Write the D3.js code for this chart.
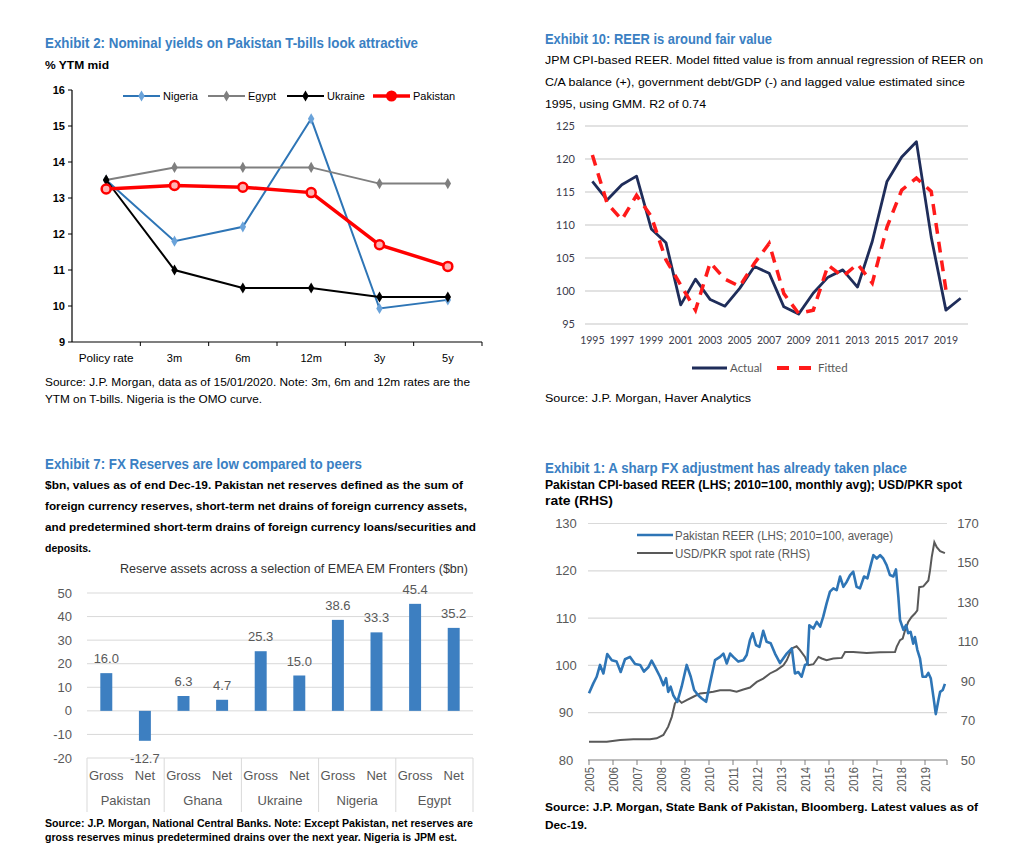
<!DOCTYPE html>
<html><head><meta charset="utf-8">
<script src="https://cdn.jsdelivr.net/npm/d3@7"></script>
<style>body{margin:0;background:#fff} svg{display:block} text{font-family:"Liberation Sans",Arial,sans-serif}</style>
</head><body><svg id="c" width="1024" height="863"></svg>
<script>
// ---------- Exhibit 2 data ----------
const yieldCats = ["Policy rate","3m","6m","12m","3y","5y"];
const nigeria  = [13.5,11.8,12.2,15.2,9.93,10.17];
const egypt    = [13.5,13.85,13.85,13.85,13.4,13.4];
const ukraine  = [13.5,11.0,10.5,10.5,10.25,10.25];
const pakistan = [13.25,13.35,13.3,13.15,11.7,11.1];
const yieldTicks = [9,10,11,12,13,14,15,16];

// ---------- Exhibit 10 data ----------
const reerYears = [1995,1996,1997,1998,1999,2000,2001,2002,2003,2004,2005,2006,2007,2008,2009,2010,2011,2012,2013,2014,2015,2016,2017,2018,2019,2020];
const reerActual = [116.6,113.8,116.1,117.4,109.4,107.3,97.9,101.8,98.7,97.7,100.4,103.7,102.7,97.6,96.5,99.7,102.1,103.2,100.6,107.5,116.6,120.3,122.6,108.2,97.1,98.9];
const reerFitted = [120.6,113.3,110.8,114.5,111.3,104.7,100.9,97.1,104.3,101.8,100.7,104.2,107.2,99.6,96.6,97.1,103.9,102.2,104.1,101.2,109.7,115.3,117.1,115.1,100.2];
const reerTicks = [95,100,105,110,115,120,125];
const reerYearLabels = [1995,1997,1999,2001,2003,2005,2007,2009,2011,2013,2015,2017,2019];

// ---------- Exhibit 7 data ----------
const resCountries = ["Pakistan","Ghana","Ukraine","Nigeria","Egypt"];
const resTypes = ["Gross","Net"];
const resValues = [16.0,-12.7,6.3,4.7,25.3,15.0,38.6,33.3,45.4,35.2];
const resTicks = [-20,-10,0,10,20,30,40,50];

// ---------- Exhibit 1 data ----------
const pkReer = [[2005.0,94.1],[2005.18,96.2],[2005.32,97.6],[2005.46,100.1],[2005.6,98.3],[2005.76,102.4],[2005.95,101.1],[2006.15,100.8],[2006.32,98.6],[2006.5,101.3],[2006.71,101.8],[2006.92,100.3],[2007.13,100.1],[2007.29,98.7],[2007.47,99.6],[2007.61,101.0],[2007.75,99.7],[2007.96,97.6],[2008.1,95.8],[2008.21,97.3],[2008.3,94.4],[2008.4,95.5],[2008.51,93.7],[2008.68,92.3],[2008.86,95.5],[2009.07,100.1],[2009.24,97.6],[2009.38,94.8],[2009.55,93.7],[2009.7,93.0],[2009.88,92.3],[2010.04,96.2],[2010.25,101.1],[2010.46,101.8],[2010.6,102.5],[2010.74,100.4],[2010.88,102.5],[2011.01,101.8],[2011.22,100.8],[2011.43,101.1],[2011.57,102.2],[2011.71,105.4],[2011.82,106.8],[2011.96,104.3],[2012.1,103.9],[2012.26,107.3],[2012.4,105.0],[2012.57,104.7],[2012.75,102.5],[2012.96,100.5],[2013.24,102.5],[2013.45,103.6],[2013.58,98.3],[2013.72,98.6],[2013.86,97.6],[2014.0,100.1],[2014.1,100.3],[2014.18,108.5],[2014.35,107.8],[2014.49,109.2],[2014.63,108.2],[2014.76,110.3],[2014.9,113.1],[2015.04,115.6],[2015.18,116.3],[2015.32,115.9],[2015.46,118.8],[2015.6,116.6],[2015.74,117.7],[2015.88,119.1],[2016.01,119.8],[2016.15,116.6],[2016.29,116.3],[2016.46,118.8],[2016.6,118.4],[2016.74,121.2],[2016.85,123.3],[2016.99,122.6],[2017.13,123.3],[2017.26,122.6],[2017.4,121.2],[2017.54,119.1],[2017.68,118.8],[2017.79,120.3],[2017.89,114.5],[2017.96,109.6],[2018.1,107.5],[2018.21,108.5],[2018.3,106.8],[2018.4,107.1],[2018.51,104.6],[2018.58,106.0],[2018.68,103.3],[2018.79,101.5],[2018.9,97.6],[2019.04,97.6],[2019.14,98.4],[2019.24,97.3],[2019.35,93.4],[2019.45,89.7],[2019.56,92.7],[2019.63,94.4],[2019.74,94.8],[2019.83,96.1]];
const usdPkr = [[2005.0,59.3],[2005.74,59.3],[2006.3,60.1],[2006.85,60.5],[2007.54,60.5],[2007.82,61.0],[2008.1,62.7],[2008.3,66.9],[2008.45,71.9],[2008.58,78.7],[2008.72,80.7],[2008.86,79.0],[2009.07,80.4],[2009.35,82.1],[2009.63,83.8],[2009.9,84.1],[2010.18,84.6],[2010.46,85.4],[2010.88,85.4],[2011.15,84.6],[2011.43,85.8],[2011.71,86.8],[2011.99,89.6],[2012.26,91.3],[2012.54,93.9],[2012.82,95.6],[2013.1,98.1],[2013.24,100.6],[2013.45,106.6],[2013.65,107.7],[2013.79,105.7],[2014.0,102.3],[2014.14,98.1],[2014.35,98.6],[2014.56,102.3],[2014.7,101.5],[2014.9,100.6],[2015.18,101.5],[2015.53,101.8],[2015.67,104.8],[2016.01,104.8],[2016.57,104.3],[2017.13,104.7],[2017.75,104.8],[2017.82,107.4],[2017.96,110.8],[2018.07,111.6],[2018.17,115.8],[2018.3,120.0],[2018.44,122.6],[2018.58,124.3],[2018.68,125.9],[2018.76,137.7],[2018.93,138.1],[2019.14,141.1],[2019.21,146.2],[2019.28,152.9],[2019.39,160.5],[2019.49,158.0],[2019.63,156.0],[2019.83,155.0]];
const lhsTicks = [80,90,100,110,120,130];
const rhsTicks = [50,70,90,110,130,150,170];
const fxYears = [2005,2006,2007,2008,2009,2010,2011,2012,2013,2014,2015,2016,2017,2018,2019];

const svg = d3.select("#c");
const TITLE = "#3a80c3";
function txt(x,y,s,o={}){
  const t = svg.append("text").attr("x",x).attr("y",y).text(s)
    .attr("font-size",o.size||11).attr("fill",o.fill||"#000")
    .attr("font-weight",o.bold?"bold":"normal")
    .attr("text-anchor",o.anchor||"start");
  if(o.w){ t.attr("textLength",o.w).attr("lengthAdjust","spacingAndGlyphs"); }
  if(o.family){ t.style("font-family",o.family); }
  return t;
}

// ================= Exhibit 2 =================
(function(){
  txt(45,48,"Exhibit 2: Nominal yields on Pakistan T-bills look attractive",{size:15,bold:true,fill:TITLE,w:373});
  txt(45,69,"% YTM mid",{size:11,bold:true,w:64});
  const y = d3.scaleLinear().domain([9,16]).range([342,90]);
  const xb = d3.scaleBand().domain(yieldCats).range([72,482]);
  const xc = c => xb(c) + xb.bandwidth()/2;
  const g = svg.append("g");
  g.append("line").attr("x1",72).attr("x2",72).attr("y1",90).attr("y2",342).attr("stroke","#000").attr("stroke-width",1.2);
  g.append("line").attr("x1",72).attr("x2",482).attr("y1",342).attr("y2",342).attr("stroke","#000").attr("stroke-width",1.2);
  yieldTicks.forEach(v=>{
    g.append("line").attr("x1",68).attr("x2",72).attr("y1",y(v)).attr("y2",y(v)).attr("stroke","#000");
    txt(65,y(v)+4,String(v),{size:11,bold:true,anchor:"end"});
  });
  yieldCats.forEach((c,i)=>{
    const bx = xb(c)+xb.step();
    g.append("line").attr("x1",bx).attr("x2",bx).attr("y1",342).attr("y2",346).attr("stroke","#000");
    txt(xc(c),362,c,{size:11,anchor:"middle",w:c==="Policy rate"?55:null});
  });
  const line = d3.line().x((d,i)=>xc(yieldCats[i])).y(d=>y(d));
  const diamond = d3.symbol().type(d3.symbolDiamond).size(36);
  const series = [
    {n:"Nigeria",v:nigeria,c:"#2e75b6",m:"#6aa3da",w:2,mk:"d",lx:123},
    {n:"Egypt",v:egypt,c:"#7f7f7f",m:"#7f7f7f",w:2,mk:"d",lx:208},
    {n:"Ukraine",v:ukraine,c:"#000",m:"#000",w:2,mk:"d",lx:287},
    {n:"Pakistan",v:pakistan,c:"#ff0000",m:"#ff0000",w:3.5,mk:"c",lx:373}
  ];
  series.forEach(s=>{
    g.append("path").attr("d",line(s.v)).attr("fill","none").attr("stroke",s.c).attr("stroke-width",s.w);
    s.v.forEach((v,i)=>{
      if(s.mk==="d") g.append("path").attr("d",diamond).attr("transform",`translate(${xc(yieldCats[i])},${y(v)})`).attr("fill",s.m);
      else g.append("circle").attr("cx",xc(yieldCats[i])).attr("cy",y(v)).attr("r",4.5).attr("fill","#ffb3b3").attr("stroke",s.m).attr("stroke-width",2.5);
    });
    // legend
    const ly = 96, l2 = s.lx+37;
    g.append("line").attr("x1",s.lx).attr("x2",l2).attr("y1",ly).attr("y2",ly).attr("stroke",s.c).attr("stroke-width",s.w);
    if(s.mk==="d") g.append("path").attr("d",diamond).attr("transform",`translate(${(s.lx+l2)/2},${ly})`).attr("fill",s.m);
    else g.append("circle").attr("cx",(s.lx+l2)/2).attr("cy",ly).attr("r",4.5).attr("fill","#ff0000").attr("stroke",s.m).attr("stroke-width",2);
    txt(l2+3,ly+4,s.n,{size:11});
  });
  txt(45,386,"Source: J.P. Morgan, data as of 15/01/2020. Note: 3m, 6m and 12m rates are the",{size:11,w:425});
  txt(45,403,"YTM on T-bills. Nigeria is the OMO curve.",{size:11,w:217});
})();

// ================= Exhibit 10 =================
(function(){
  txt(545,44,"Exhibit 10: REER is around fair value",{size:15,bold:true,fill:TITLE,w:227});
  txt(545,64,"JPM CPI-based REER. Model fitted value is from annual regression of REER on",{size:11,w:438});
  txt(545,86,"C/A balance (+), government debt/GDP (-) and lagged value estimated since",{size:11,w:420});
  txt(545,108,"1995, using GMM. R2 of 0.74",{size:11,w:161});
  const y = d3.scaleLinear().domain([95,125]).range([324,126]);
  const xb = d3.scaleBand().domain(reerYears).range([585,968]);
  const xc = yr => xb(yr)+xb.bandwidth()/2;
  const g = svg.append("g");
  reerTicks.forEach(v=>{
    g.append("line").attr("x1",585).attr("x2",968).attr("y1",y(v)).attr("y2",y(v)).attr("stroke","#d9d9d9").attr("stroke-width",1.5);
    txt(575,y(v)+4,String(v),{size:11,anchor:"end",fill:"#3b3b4b",family:"Lato"});
  });
  reerYearLabels.forEach(yr=>txt(xc(yr),344,String(yr),{size:10.5,anchor:"middle",fill:"#3b3b4b",family:"Lato"}));
  const la = d3.line().x((d,i)=>xc(reerYears[i])).y(d=>y(d));
  g.append("path").attr("d",la(reerActual)).attr("fill","none").attr("stroke","#1f2d5a").attr("stroke-width",2.8).attr("stroke-linejoin","round");
  g.append("path").attr("d",la(reerFitted)).attr("fill","none").attr("stroke","#ff1a1a").attr("stroke-width",3.5).attr("stroke-dasharray","11,8");
  g.append("line").attr("x1",692).attr("x2",727).attr("y1",368).attr("y2",368).attr("stroke","#1f2d5a").attr("stroke-width",3);
  txt(730,372,"Actual",{size:11.5,fill:"#595959",family:"Lato"});
  g.append("line").attr("x1",777).attr("x2",813).attr("y1",368).attr("y2",368).attr("stroke","#ff1a1a").attr("stroke-width",4).attr("stroke-dasharray","12,10");
  txt(818,372,"Fitted",{size:11.5,fill:"#595959",family:"Lato"});
  txt(545,402,"Source: J.P. Morgan, Haver Analytics",{size:11,w:206});
})();

// ================= Exhibit 7 =================
(function(){
  txt(45,469,"Exhibit 7: FX Reserves are low compared to peers",{size:15,bold:true,fill:TITLE,w:317});
  txt(45,489,"$bn, values as of end Dec-19. Pakistan net reserves defined as the sum of",{size:11,bold:true,w:418});
  txt(45,510,"foreign currency reserves, short-term net drains of foreign currency assets,",{size:11,bold:true,w:422});
  txt(45,531,"and predetermined short-term drains of foreign currency loans/securities and",{size:11,bold:true,w:431});
  txt(45,552,"deposits.",{size:11,bold:true,w:46});
  txt(294,573,"Reserve assets across a selection of EMEA EM Fronters ($bn)",{size:13,anchor:"middle",fill:"#333",w:348});
  const y = d3.scaleLinear().domain([-20,50]).range([758,593]);
  const keys = [];
  resCountries.forEach(c=>resTypes.forEach(t=>keys.push(c+"|"+t)));
  const x = d3.scaleBand().domain(keys).range([87,473]).paddingInner(0.69).paddingOuter(0.345);
  const g = svg.append("g");
  resTicks.forEach(v=>{
    g.append("line").attr("x1",87).attr("x2",473).attr("y1",y(v)).attr("y2",y(v)).attr("stroke","#d9d9d9").attr("stroke-width",1);
    txt(72,y(v)+4.5,String(v),{size:13,anchor:"end",fill:"#595959"});
  });
  keys.forEach((k,i)=>{
    const v = resValues[i];
    g.append("rect").attr("x",x(k)).attr("width",x.bandwidth())
      .attr("y",y(Math.max(0,v))).attr("height",Math.abs(y(v)-y(0))).attr("fill","#3d7fc1");
    const cx = x(k)+x.bandwidth()/2;
    txt(cx, v>=0 ? y(v)-10 : y(v)+22, v.toFixed(1),{size:13,anchor:"middle",fill:"#595959"});
    txt(cx,780,k.split("|")[1],{size:13,anchor:"middle",fill:"#595959"});
  });
  const step = x.step();
  for(let j=0;j<=resCountries.length;j++){
    const sx = 87 + j*2*step;
    g.append("line").attr("x1",sx).attr("x2",sx).attr("y1",758).attr("y2",812).attr("stroke","#d9d9d9").attr("stroke-width",1);
  }
  resCountries.forEach((c,j)=>txt(87+(2*j+1)*step,805,c,{size:13,anchor:"middle",fill:"#595959"}));
  txt(45,827,"Source: J.P. Morgan, National Central Banks. Note: Except Pakistan, net reserves are",{size:10,bold:true,w:428});
  txt(45,841,"gross reserves minus predetermined drains over the next year. Nigeria is JPM est.",{size:10,bold:true,w:412});
})();

// ================= Exhibit 1 =================
(function(){
  txt(545,473,"Exhibit 1: A sharp FX adjustment has already taken place",{size:15,bold:true,fill:TITLE,w:362});
  txt(545,489,"Pakistan CPI-based REER (LHS; 2010=100, monthly avg); USD/PKR spot",{size:12,bold:true,w:417});
  txt(545,505,"rate (RHS)",{size:12,bold:true,w:68});
  const x = d3.scaleLinear().domain([2005,2020]).range([589,949]);
  const yl = d3.scaleLinear().domain([80,130]).range([760,523.5]);
  const yr = d3.scaleLinear().domain([50,170]).range([760,523.5]);
  const g = svg.append("g");
  lhsTicks.forEach(v=>{
    if(v>80) g.append("line").attr("x1",588).attr("x2",947).attr("y1",yl(v)).attr("y2",yl(v)).attr("stroke","#d9d9d9").attr("stroke-width",1.2);
    txt(566,yl(v)+4.5,String(v),{size:13,anchor:"middle",fill:"#595959"});
  });
  rhsTicks.forEach(v=>txt(968,yr(v)+4.5,String(v),{size:13,anchor:"middle",fill:"#595959"}));
  g.append("line").attr("x1",588).attr("x2",947).attr("y1",760).attr("y2",760).attr("stroke","#7f7f7f").attr("stroke-width",1.2);
  fxYears.forEach(yy=>{
    g.append("line").attr("x1",x(yy)).attr("x2",x(yy)).attr("y1",760).attr("y2",765).attr("stroke","#7f7f7f");
    svg.append("text").attr("transform",`translate(${x(yy)+4.5},767) rotate(-90)`).attr("text-anchor","end")
      .attr("font-size",12).attr("fill","#595959").attr("textLength",25).attr("lengthAdjust","spacingAndGlyphs").text(String(yy));
  });
  g.append("line").attr("x1",947).attr("x2",947).attr("y1",760).attr("y2",765).attr("stroke","#7f7f7f");
  const lr = d3.line().x(d=>x(d[0])).y(d=>yr(d[1]));
  const ll = d3.line().x(d=>x(d[0])).y(d=>yl(d[1]));
  g.append("path").attr("d",lr(usdPkr)).attr("fill","none").attr("stroke","#595959").attr("stroke-width",2);
  g.append("path").attr("d",ll(pkReer)).attr("fill","none").attr("stroke","#2e75b6").attr("stroke-width",2.6).attr("stroke-linejoin","round");
  g.append("line").attr("x1",637).attr("x2",673).attr("y1",535).attr("y2",535).attr("stroke","#2e75b6").attr("stroke-width",2.5);
  txt(675,539.5,"Pakistan REER (LHS; 2010=100, average)",{size:12.5,fill:"#595959",w:218});
  g.append("line").attr("x1",637).attr("x2",673).attr("y1",553).attr("y2",553).attr("stroke","#595959").attr("stroke-width",2);
  txt(675,557.5,"USD/PKR spot rate (RHS)",{size:12.5,fill:"#595959",w:135});
  txt(545,811,"Source: J.P. Morgan, State Bank of Pakistan, Bloomberg. Latest values as of",{size:11.5,bold:true,w:433});
  txt(545,829,"Dec-19.",{size:11.5,bold:true,w:42});
})();
</script></body></html>
